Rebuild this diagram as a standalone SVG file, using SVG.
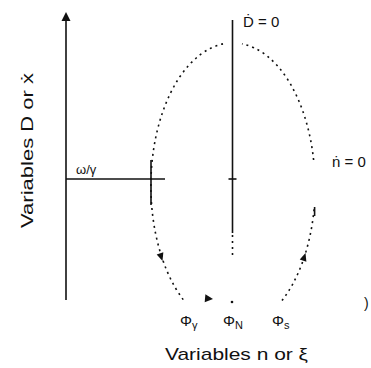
<svg xmlns="http://www.w3.org/2000/svg" width="371" height="368" viewBox="0 0 371 368">
<style>
.ln{stroke:#111;stroke-width:1.6;fill:none}
.dot{stroke:#111;stroke-width:1.6;fill:none;stroke-dasharray:2 4}
.ah{fill:#111}
text{font-family:"Liberation Sans","DejaVu Sans",Arial,sans-serif;fill:#111}
</style>
<rect width="371" height="368" fill="#fff"/>
<g id="connectors">
<line class="ln" x1="66" y1="300" x2="66" y2="20"/>
<polygon class="ah" points="66,12 61.5,21 70.5,21"/>
<line class="ln" x1="66" y1="179" x2="165" y2="179"/>
<line class="ln" x1="151" y1="160" x2="151" y2="205"/>
<line class="ln" x1="232.5" y1="20" x2="232.5" y2="233"/>
<line class="dot" x1="232.5" y1="235" x2="232.5" y2="257"/>
<line class="ln" x1="228.5" y1="179" x2="236.5" y2="179"/>
<path class="dot" d="M223,43.9 A82,143 0 0 0 183.5,300"/>
<path class="dot" d="M282,300.6 A82,143 0 0 0 314.1,209"/>
<line class="ln" x1="314.6" y1="207" x2="314.6" y2="216"/>
<path class="dot" d="M313.6,160 A82,143 0 0 0 242,43.9"/>
<polygon class="ah" points="0,0 -8,-3.5 -8,3.5" transform="translate(162.5,261) rotate(71.8)"/>
<polygon class="ah" points="0,0 -8,-3.5 -8,3.5" transform="translate(305.5,253) rotate(-72.2)"/>
<polygon class="ah" points="0,0 -8,-4 -8,4" transform="translate(213,299) rotate(5)"/>
<circle cx="232" cy="302" r="1.3" fill="#111"/>
</g>
<g id="labels">
<text x="243" y="27" font-size="15">Ḋ = 0</text>
<text x="332" y="167" font-size="15">ṅ = 0</text>
<text x="76" y="174" font-size="13">ω/γ</text>
<text transform="translate(33,228) rotate(-90)" font-size="17" textLength="155" lengthAdjust="spacingAndGlyphs">Variables D or ẋ</text>
<text x="165" y="360" font-size="17" textLength="143" lengthAdjust="spacingAndGlyphs">Variables n or ξ</text>
<text x="180" y="326" font-size="15">Φ<tspan font-size="11" dy="3">γ</tspan></text>
<text x="223" y="326" font-size="15">Φ<tspan font-size="11" dy="3">N</tspan></text>
<text x="272" y="326" font-size="15">Φ<tspan font-size="11" dy="3">s</tspan></text>
<text x="364" y="308" font-size="14">)</text>
</g>
</svg>
